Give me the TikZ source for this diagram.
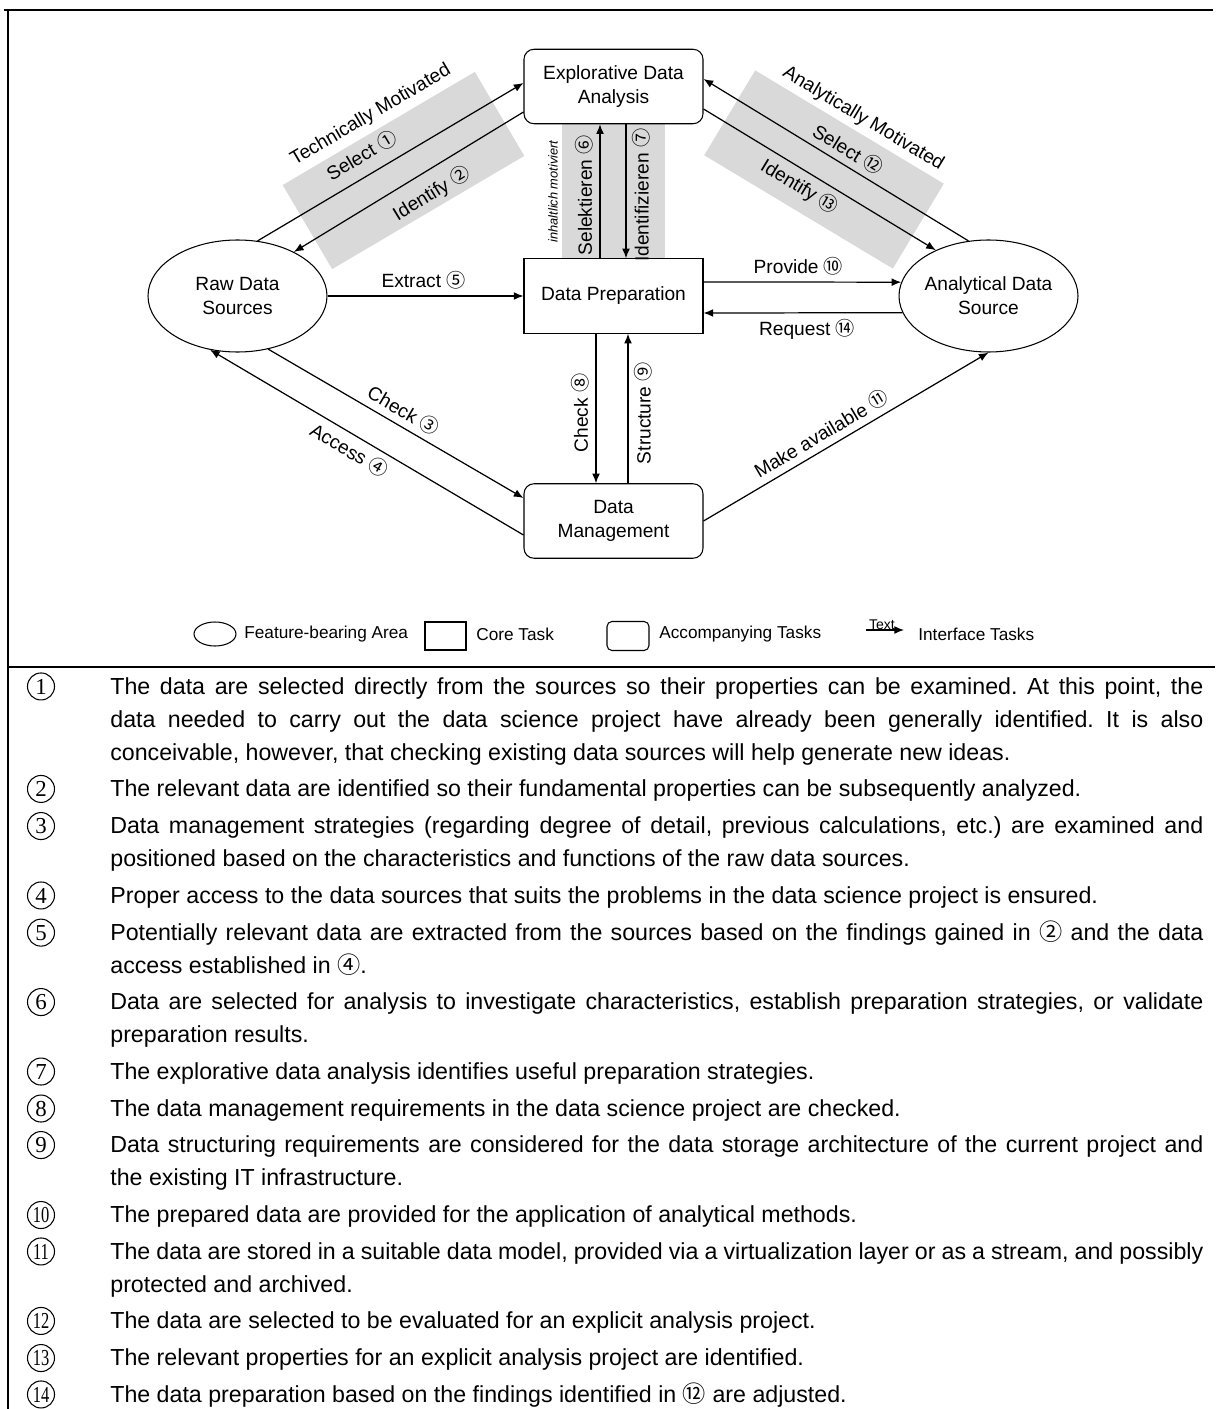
\documentclass[tikz,border=0pt]{standalone}
\usepackage{fontspec}
\setmainfont{Liberation Sans}
\newfontfamily\circfont{Noto Sans CJK SC}
\newfontfamily\numfont{Liberation Serif}
\usetikzlibrary{shapes.geometric,arrows.meta}

\newcommand\diagfont{\fontsize{10.9}{13.7}\selectfont}
\newcommand\legfont{\fontsize{9.8}{11}\selectfont}
\newcommand\bodyfont{\fontsize{13.2}{18.8}\selectfont}
\newcommand\cn[1]{{\circfont #1}}
\newcommand\nn[1]{\scalebox{0.72}[1]{#1}}
\definecolor{bandgray}{RGB}{217,217,217}
\hyphenpenalty=10000
\exhyphenpenalty=10000
\frenchspacing

\begin{document}
\begin{tikzpicture}[
  task node/.style={draw, line width=0.6pt, minimum width=3.58cm, minimum height=1.49cm, inner sep=0pt, align=center, font=\diagfont},
  area node/.style={draw, ellipse, line width=0.6pt, minimum width=3.58cm, minimum height=2.24cm, inner xsep=-0.4cm, inner ysep=0pt, align=center, font=\diagfont},
  band node/.style={fill=bandgray, inner sep=0pt},
  flow edge/.style={-{Latex[length=5.5pt,width=4.5pt]}, line width=0.7pt},
  edge label/.style={font=\diagfont},
  legend text/.style={anchor=west, inner sep=0pt, font=\legfont},
  frame line/.style={line width=1.5pt},
  num mark/.style={circle, draw, line width=0.6pt, minimum size=0.54cm, inner sep=0pt, anchor=base, font=\numfont\fontsize{13}{13}\selectfont},
  item text/.style={anchor=base west, text width=21.86cm, align=justify, inner sep=0pt, font=\bodyfont}
]
\useasboundingbox (0,0) rectangle (24.30,-28.18);

\draw[frame line] (0.09,-0.20) -- (24.26,-0.20);
\draw[frame line] (0.16,-0.20) -- (0.16,-28.18);
\draw[frame line] (0.16,-13.34) -- (24.30,-13.34);

\node[band node, rotate=30.5, minimum width=4.46cm, minimum height=1.95cm] (bandL) at (8.07,-3.41) {};
\node[band node, rotate=-31, minimum width=4.40cm, minimum height=1.98cm] (bandR) at (16.48,-3.39) {};
\node[band node, minimum width=2.06cm, minimum height=2.70cm] (bandM) at (12.27,-3.83) {};

\node[task node, rounded corners=0.2cm] (EDA) at (12.27,-1.73) {Explorative Data\\Analysis};
\node[task node] (prep) at (12.27,-5.92) {Data Preparation};
\node[task node, rounded corners=0.2cm] (mgmt) at (12.27,-10.42) {Data\\Management};
\node[area node] (raw) at (4.75,-5.92) {Raw Data\\Sources};
\node[area node] (ads) at (19.77,-5.92) {Analytical Data\\Source};

\node[edge label, above, rotate=30.5] (techLbl) at (bandL.north) {Technically Motivated};
\node[edge label, above, rotate=-31, inner sep=2pt] (anaLbl) at ([xshift=0.14cm,yshift=-0.06cm]bandR.north) {Analytically Motivated};
\node[font=\itshape\fontsize{7.3}{8}\selectfont, anchor=south, rotate=90, inner sep=2pt] (inhLbl) at (bandM.west) {inhaltlich motiviert};

\draw[flow edge] (raw.70) -- ([yshift=0.07cm]EDA.west)
  node[edge label, pos=0.43, sloped, above=3pt] (l1) {Select \cn{①}};
\draw[flow edge] ([yshift=-0.51cm]EDA.west) -- (raw.38)
  node[edge label, pos=0.45, sloped, below=3pt] (l2) {Identify \cn{②}};
\draw[flow edge] (raw.-60) -- ([yshift=0.46cm]mgmt.west)
  node[edge label, pos=0.5, sloped, above] (l3) {Check \cn{③}};
\draw[flow edge] ([yshift=-0.28cm]mgmt.west) -- (raw.-117)
  node[edge label, pos=0.53, sloped, below] (l4) {Access \cn{④}};
\draw[flow edge] (raw.east) -- (prep.west)
  node[edge label, pos=0.49, above] (l5) {Extract \cn{⑤}};
\draw[flow edge] ([xshift=-0.27cm]prep.north) -- ([xshift=-0.27cm]EDA.south)
  node[edge label, pos=0.47, anchor=south, rotate=90] (l6) {Selektieren \cn{⑥}};
\draw[flow edge] ([xshift=0.25cm]EDA.south) -- ([xshift=0.25cm]prep.north)
  node[edge label, pos=0.53, anchor=north, rotate=90] (l7) {Identifizieren \cn{⑦}};
\draw[flow edge] ([xshift=-0.35cm]prep.south) -- ([xshift=-0.35cm]mgmt.north)
  node[edge label, pos=0.53, anchor=south, rotate=90] (l8) {Check \cn{⑧}};
\draw[flow edge] ([xshift=0.29cm]mgmt.north) -- ([xshift=0.29cm]prep.south)
  node[edge label, pos=0.47, anchor=north, rotate=90] (l9) {Structure \cn{⑨}};
\draw[flow edge] ([yshift=0.28cm]prep.east) -- (ads.171)
  node[edge label, pos=0.48, above] (l10) {Provide \cn{⑩}};
\draw[flow edge] (mgmt.east) -- (ads.south)
  node[edge label, pos=0.44, sloped, above] (l11) {Make available \cn{⑪}};
\draw[flow edge] (ads.110) -- ([yshift=0.15cm]EDA.east)
  node[edge label, pos=0.485, sloped, above] (l12) {Select \cn{⑫}};
\draw[flow edge] ([yshift=-0.45cm]EDA.east) -- (ads.139)
  node[edge label, pos=0.45, sloped, below] (l13) {Identify \cn{⑬}};
\draw[flow edge] (ads.191) -- ([yshift=-0.34cm]prep.east)
  node[edge label, pos=0.48, below] (l14) {Request \cn{⑭}};

\node[draw, ellipse, line width=0.6pt, minimum width=0.84cm, minimum height=0.48cm, inner sep=0pt] (legArea) at (4.30,-12.68) {};
\node[legend text] (legAreaTxt) at (4.88,-12.68) {Feature-bearing Area};
\node[draw, line width=0.6pt, minimum width=0.82cm, minimum height=0.56cm, inner sep=0pt] (legCore) at (8.91,-12.72) {};
\node[legend text] (legCoreTxt) at (9.52,-12.68) {Core Task};
\node[draw, rounded corners=0.1cm, line width=0.6pt, minimum width=0.84cm, minimum height=0.58cm, inner sep=0pt] (legAcc) at (12.56,-12.72) {};
\node[legend text] (legAccTxt) at (13.18,-12.68) {Accompanying Tasks};
\coordinate (legFrom) at (17.32,-12.60);
\coordinate (legTo) at (18.08,-12.60);
\draw[flow edge] (legFrom) -- (legTo)
  node[pos=0.42, anchor=south, inner sep=0pt, font=\fontsize{8}{9}\selectfont] (legTxt) {Text};
\node[legend text] (legIfTxt) at (18.36,-12.68) {Interface Tasks};

\node[num mark] (n1) at (0.82,-13.88) {1};
\node[item text] (t1) at (2.20,-13.88) {The data are selected directly from the sources so their properties can be examined. At this point, the\linebreak data needed to carry out the data science project have already been generally identified. It is also\linebreak conceivable, however, that checking existing data sources will help generate new ideas.};
\node[num mark] (n2) at (0.82,-15.93) {2};
\node[item text] (t2) at (2.20,-15.93) {The relevant data are identified so their fundamental properties can be subsequently analyzed.};
\node[num mark] (n3) at (0.82,-16.67) {3};
\node[item text] (t3) at (2.20,-16.67) {Data management strategies (regarding degree of detail, previous calculations, etc.) are examined and\linebreak positioned based on the characteristics and functions of the raw data sources.};
\node[num mark] (n4) at (0.82,-18.06) {4};
\node[item text] (t4) at (2.20,-18.06) {Proper access to the data sources that suits the problems in the data science project is ensured.};
\node[num mark] (n5) at (0.82,-18.80) {5};
\node[item text] (t5) at (2.20,-18.80) {Potentially relevant data are extracted from the sources based on the findings gained in \cn{②} and the data\linebreak access established in \cn{④}.};
\node[num mark] (n6) at (0.82,-20.19) {6};
\node[item text] (t6) at (2.20,-20.19) {Data are selected for analysis to investigate characteristics, establish preparation strategies, or validate\linebreak preparation results.};
\node[num mark] (n7) at (0.82,-21.58) {7};
\node[item text] (t7) at (2.20,-21.58) {The explorative data analysis identifies useful preparation strategies.};
\node[num mark] (n8) at (0.82,-22.32) {8};
\node[item text] (t8) at (2.20,-22.32) {The data management requirements in the data science project are checked.};
\node[num mark] (n9) at (0.82,-23.05) {9};
\node[item text] (t9) at (2.20,-23.05) {Data structuring requirements are considered for the data storage architecture of the current project and\linebreak the existing IT infrastructure.};
\node[num mark] (n10) at (0.82,-24.45) {\nn{10}};
\node[item text] (t10) at (2.20,-24.45) {The prepared data are provided for the application of analytical methods.};
\node[num mark] (n11) at (0.82,-25.18) {\nn{11}};
\node[item text] (t11) at (2.20,-25.18) {The data are stored in a suitable data model, provided via a virtualization layer or as a stream, and possibly\linebreak protected and archived.};
\node[num mark] (n12) at (0.82,-26.57) {\nn{12}};
\node[item text] (t12) at (2.20,-26.57) {The data are selected to be evaluated for an explicit analysis project.};
\node[num mark] (n13) at (0.82,-27.31) {\nn{13}};
\node[item text] (t13) at (2.20,-27.31) {The relevant properties for an explicit analysis project are identified.};
\node[num mark] (n14) at (0.82,-28.04) {\nn{14}};
\node[item text] (t14) at (2.20,-28.04) {The data preparation based on the findings identified in \cn{⑫} are adjusted.};
\end{tikzpicture}
\end{document}
